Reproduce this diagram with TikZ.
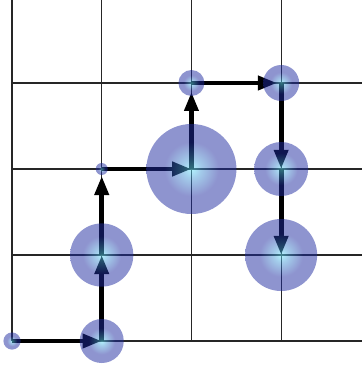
\documentclass[tikz,border=0pt]{standalone}
\usepackage{tikz}
\usetikzlibrary{
    arrows.meta,
    positioning
}
\usepackage{xcolor}
\definecolor{blobout}{RGB}{30,42,160}
\definecolor{blobin}{RGB}{100,230,252}
\pgfdeclareradialshading{blobglow}{\pgfpoint{0bp}{0bp}}{%
    color(0bp)=(blobin);
    color(5bp)=(blobin!60!blobout);
    color(15bp)=(blobout);
    color(50bp)=(blobout)}

\begin{document}
\begin{tikzpicture}[
        x=2.2425cm,
        y=2.15cm,
        >=Stealth,
        gridline/.style={
            draw=black!85,
            line width=0.9pt
        },
        walk/.style={
            -{Triangle[length=0.48cm,width=0.34cm]},
            line width=0.12cm,
            black
        },
        blob/.style={
            circle,
            inner sep=0pt,
            shading=blobglow,
            fill opacity=0.5
        }
    ]
        \useasboundingbox (-0.134,-0.337) rectangle (3.902,3.965);
        % grid
        \draw[gridline] (0,0) -- (0,3.965);
        \draw[gridline] (1,0) -- (1,3.965);
        \draw[gridline] (2,0) -- (2,3.965);
        \draw[gridline] (3,0) -- (3,3.965);
        \draw[gridline] (0,0) -- (3.902,0);
        \draw[gridline] (0,1) -- (3.902,1);
        \draw[gridline] (0,2) -- (3.902,2);
        \draw[gridline] (0,3) -- (3.902,3);
        % sites
        \coordinate (s00) at (0,0);
        \coordinate (s10) at (1,0);
        \coordinate (s11) at (1,1);
        \coordinate (s12) at (1,2);
        \coordinate (s22) at (2,2);
        \coordinate (s23) at (2,3);
        \coordinate (s33) at (3,3);
        \coordinate (s32) at (3,2);
        \coordinate (s31) at (3,1);
        % path
        \draw[walk] (s00) -- (s10);
        \draw[walk] (s10) -- (s11);
        \draw[walk, shorten >=0.17cm] (s11) -- (s12);
        \draw[walk] (s12) -- (s22);
        \draw[walk, shorten >=0.22cm] (s22) -- (s23);
        \draw[walk, shorten >=0.1cm] (s23) -- (s33);
        \draw[walk] (s33) -- (s32);
        \draw[walk] (s32) -- (s31);
        % weights
        \node[blob, minimum size=0.43cm] (b00) at (s00) {};
        \node[blob, minimum size=1.1cm] (b10) at (s10) {};
        \node[blob, minimum size=1.58cm] (b11) at (s11) {};
        \node[blob, minimum size=0.3cm] (b12) at (s12) {};
        \node[blob, minimum size=2.25cm] (b22) at (s22) {};
        \node[blob, minimum size=0.65cm] (b23) at (s23) {};
        \node[blob, minimum size=0.9cm] (b33) at (s33) {};
        \node[blob, minimum size=1.35cm] (b32) at (s32) {};
        \node[blob, minimum size=1.8cm] (b31) at (s31) {};
    \end{tikzpicture}
\end{document}
